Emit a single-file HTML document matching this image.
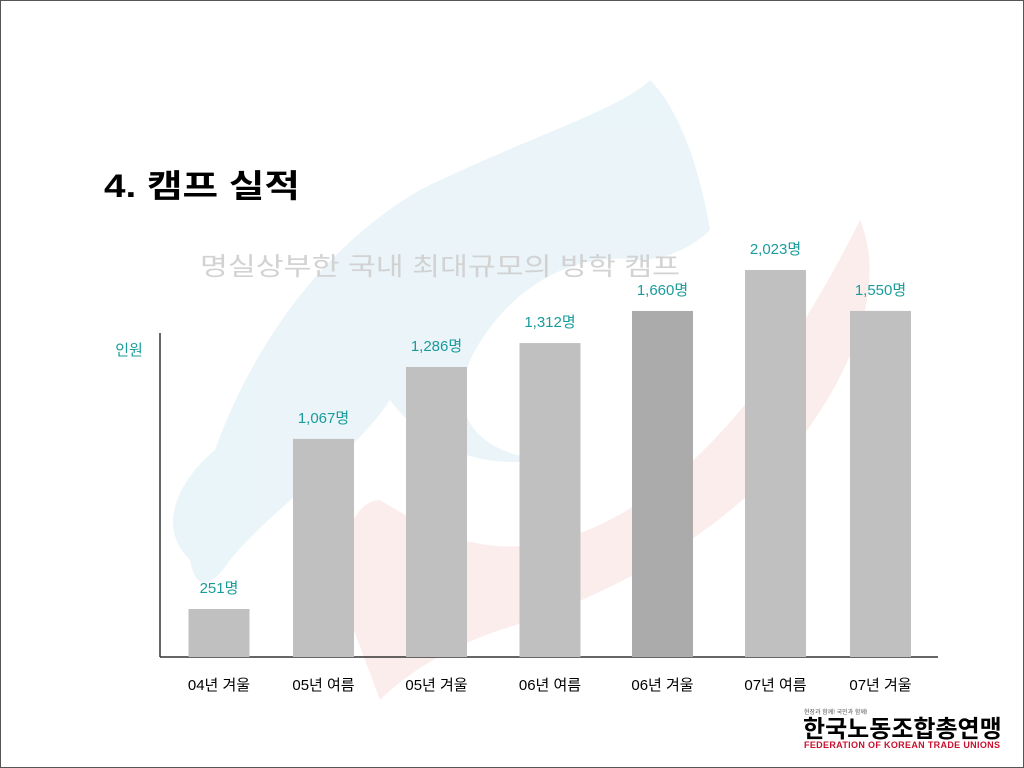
<!DOCTYPE html>
<html><head><meta charset="utf-8">
<style>
html,body{margin:0;padding:0;background:#fff;}
#root{position:relative;width:1024px;height:768px;overflow:hidden;font-family:"Liberation Sans","Noto Sans CJK KR",sans-serif;}
</style></head>
<body>
<div id="root">
<svg id="chart" width="1024" height="768" viewBox="0 0 1024 768">
  <rect x="0.5" y="0.5" width="1023" height="767" fill="#fff" stroke="#555"/>
  <g opacity="0.75">
    <path d="M190,560 C150,520 190,470 215,450 C240,380 300,260 420,190 C520,140 620,110 650,80 C680,110 700,170 710,230 C690,250 660,260 640,260 C560,250 500,300 470,360 C450,410 470,450 540,460 C470,470 420,440 390,400 C350,460 280,500 230,560 C210,590 195,590 190,560 Z" fill="#e3f1f7"/>
    <path d="M350,620 C330,560 350,500 380,500 C430,530 480,560 560,540 C660,510 760,420 860,220 C885,280 860,360 800,440 C720,540 600,600 500,630 C440,650 400,680 380,700 Z" fill="#fbe7e7"/>
  </g>
  <text x="104" y="197" font-size="32" font-weight="bold" fill="#000" textLength="196" lengthAdjust="spacingAndGlyphs">4.  캠프 실적</text>
  <text x="200" y="275" font-size="25" fill="#d2d2d2" textLength="480" lengthAdjust="spacingAndGlyphs">명실상부한 국내 최대규모의 방학 캠프</text>
  <text x="129" y="355" font-size="15" fill="#1a9b9b" text-anchor="middle">인원</text>
  <line x1="160" y1="333" x2="160" y2="657" stroke="#333" stroke-width="1.5"/>
  <line x1="160" y1="657" x2="938" y2="657" stroke="#333" stroke-width="1.5"/>
  <g id="bars"></g>
  <g>
    <text x="804" y="714" font-size="6" fill="#555">현장과 함께! 국민과 함께!</text>
    <text x="803" y="737" font-size="24" font-weight="bold" fill="#000">한국노동조합총연맹</text>
    <text x="804" y="748" font-size="9" font-weight="bold" fill="#c8102e" textLength="196">FEDERATION OF KOREAN TRADE UNIONS</text>
  </g>
</svg>
<script>
const categories = ["04년 겨울","05년 여름","05년 겨울","06년 여름","06년 겨울","07년 여름","07년 겨울"];
const barValues = [251, 1140, 1516, 1641, 1809, 2023, 1809];
const valueLabels = ["251명","1,067명","1,286명","1,312명","1,660명","2,023명","1,550명"];
const barColors = ["#c0c0c0","#c0c0c0","#c0c0c0","#c0c0c0","#ababab","#c0c0c0","#c0c0c0"];
const slotCenters = [219, 323.5, 436.5, 550, 662.5, 775.5, 880.5];

const ns = "http://www.w3.org/2000/svg";
const baseY = 657, maxVal = 2023, maxH = 387;
const yScale = v => baseY - v / maxVal * maxH;
const xCenter = i => slotCenters[i];
const barW = 61;
const g = document.getElementById("bars");
categories.forEach((c, i) => {
  const cx = xCenter(i), top = yScale(barValues[i]);
  const r = document.createElementNS(ns, "rect");
  r.setAttribute("x", cx - barW / 2);
  r.setAttribute("y", top);
  r.setAttribute("width", barW);
  r.setAttribute("height", baseY - top);
  r.setAttribute("fill", barColors[i]);
  
  
  g.appendChild(r);
  const t = document.createElementNS(ns, "text");
  t.setAttribute("x", cx);
  t.setAttribute("y", top - 16);
  t.setAttribute("font-size", "15");
  t.setAttribute("fill", "#1a9b9b");
  t.setAttribute("text-anchor", "middle");
  t.textContent = valueLabels[i];
  
  
  g.appendChild(t);
  const l = document.createElementNS(ns, "text");
  l.setAttribute("x", cx);
  l.setAttribute("y", 690);
  l.setAttribute("font-size", "15");
  l.setAttribute("fill", "#000");
  l.setAttribute("text-anchor", "middle");
  l.textContent = c;
  
  
  g.appendChild(l);
});
</script>
</div>
</body></html>
